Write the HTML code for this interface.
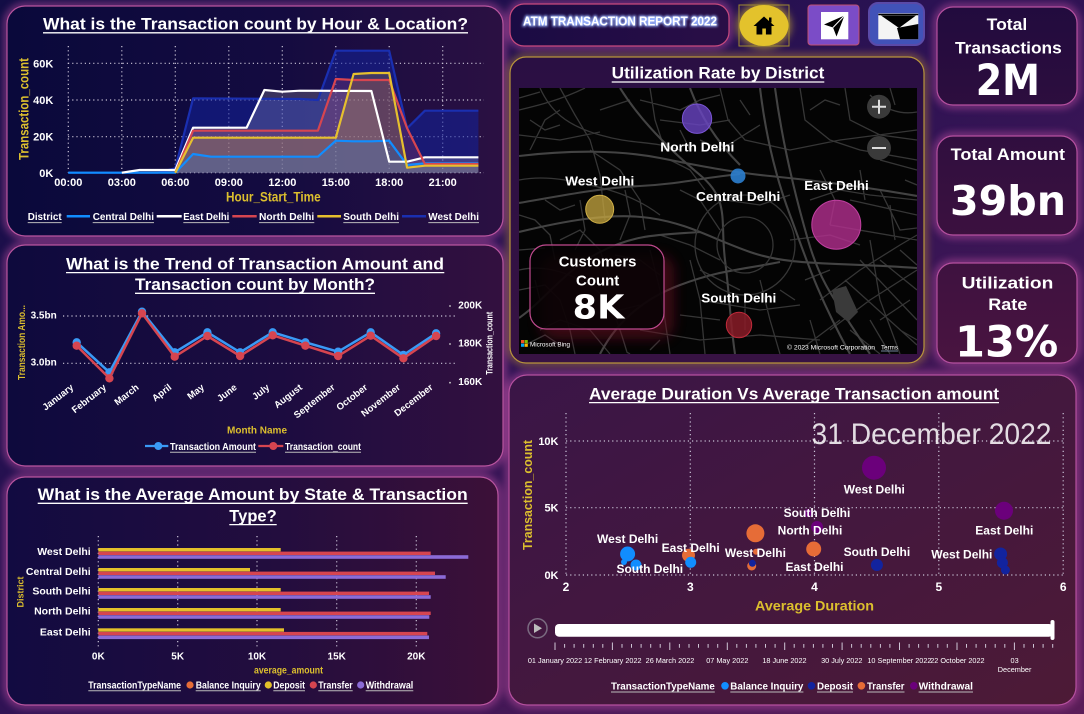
<!DOCTYPE html>
<html><head><meta charset="utf-8">
<style>
html,body{margin:0;padding:0;width:1084px;height:714px;overflow:hidden;background:#1d0e48;}
svg{display:block}
text{font-family:"Liberation Sans","DejaVu Sans",sans-serif;font-weight:bold;fill:#fff}
.y{fill:#dcbf2e}
.n{font-family:"DejaVu Sans","Liberation Sans",sans-serif}
.g{stroke:#c9c3d6;stroke-width:1.2;stroke-dasharray:1.2 3;fill:none}
.r1{stroke:#363636;stroke-width:1.3;fill:none}
.r2{stroke:#434343;stroke-width:2.1;fill:none}
</style></head><body>
<svg width="1084" height="714" viewBox="0 0 1084 714" xmlns="http://www.w3.org/2000/svg">
<defs>
<linearGradient id="bg" x1="0" y1="0" x2="1" y2="1">
<stop offset="0" stop-color="#120d45"/><stop offset="0.45" stop-color="#2c1254"/><stop offset="1" stop-color="#5a1d58"/>
</linearGradient>
<linearGradient id="gP1" x1="0" y1="0" x2="1" y2="0"><stop offset="0" stop-color="#0a093b"/><stop offset="0.55" stop-color="#140b40"/><stop offset="1" stop-color="#2b1042"/></linearGradient>
<linearGradient id="gP2" x1="0" y1="0" x2="1" y2="0"><stop offset="0" stop-color="#0e0a3d"/><stop offset="0.55" stop-color="#1c0c40"/><stop offset="1" stop-color="#33103f"/></linearGradient>
<linearGradient id="gP3" x1="0" y1="0" x2="1" y2="0"><stop offset="0" stop-color="#120b41"/><stop offset="0.55" stop-color="#230d3e"/><stop offset="1" stop-color="#3c1038"/></linearGradient>
<linearGradient id="gSc" x1="0" y1="0" x2="1" y2="1"><stop offset="0" stop-color="#3a1547"/><stop offset="1" stop-color="#4d1a36"/></linearGradient>
<linearGradient id="gMap" x1="0" y1="0" x2="0" y2="1"><stop offset="0" stop-color="#2a0f43"/><stop offset="1" stop-color="#371243"/></linearGradient>
<linearGradient id="gK" gradientUnits="userSpaceOnUse" x1="0" y1="0" x2="0" y2="370"><stop offset="0" stop-color="#210b3e"/><stop offset="1" stop-color="#4a1440"/></linearGradient>
<linearGradient id="gH" x1="0" y1="0" x2="1" y2="0"><stop offset="0" stop-color="#1a0b44"/><stop offset="1" stop-color="#2a0e46"/></linearGradient>
<filter id="blur4" x="-20%" y="-20%" width="140%" height="140%"><feGaussianBlur stdDeviation="4"/></filter>
<filter id="blur6" x="-30%" y="-30%" width="160%" height="160%"><feGaussianBlur stdDeviation="6"/></filter>
<filter id="blur1" x="-10%" y="-30%" width="120%" height="160%"><feGaussianBlur stdDeviation="1.2"/></filter>
<clipPath id="mapclip"><rect x="519" y="88" width="398" height="266"/></clipPath>
</defs>
<rect width="1084" height="714" fill="url(#bg)"/>

<g fill="none" stroke="#c24fa4" stroke-width="6" opacity=".65" filter="url(#blur4)">
<rect x="7" y="6" width="496" height="230" rx="18"/>
<rect x="7" y="245" width="496" height="221" rx="18"/>
<rect x="7" y="477" width="491" height="228" rx="18"/>
<rect x="509" y="375" width="567" height="330" rx="18"/>
<rect x="937" y="7" width="140" height="98" rx="16"/>
<rect x="937" y="136" width="140" height="99" rx="16"/>
<rect x="937" y="263" width="140" height="100" rx="16"/>
<rect x="510" y="4" width="219" height="42" rx="14"/>
</g>
<rect x="510" y="57" width="414" height="306" rx="16" fill="none" stroke="#c08a3a" stroke-width="6" opacity=".6" filter="url(#blur4)"/>

<!-- PANEL 1 -->
<rect x="7" y="6" width="496" height="230" rx="18" fill="url(#gP1)" stroke="#b9559f" stroke-width="1.2"/>
<text x="43" y="29.5" font-size="16.5" textLength="425" lengthAdjust="spacingAndGlyphs">What is the Transaction count by Hour &amp; Location?</text>
<line x1="43" x2="468" y1="32.8" y2="32.8" stroke="#fff" stroke-width="1.3"/>
<g class="g">
<path d="M68,63.3H484M68,100H484M68,136.7H484M68,172.7H484"/>
<path d="M68.3,46V172.7M121.8,46V172.7M175.3,46V172.7M228.8,46V172.7M282.3,46V172.7M335.8,46V172.7M389.2,46V172.7M442.7,46V172.7"/>
</g>
<g stroke="none">
<polygon fill="#12239E" fill-opacity=".55" points="68.3,172.7 157.5,172.7 175.3,168.3 193.1,98.3 300.1,99 317.9,100 335.8,50.7 389.2,50.7 407.1,128.3 424.9,110.7 478.4,110.7 478.4,172.7"/>
<polygon fill="#ffffff" fill-opacity=".16" points="68.3,172.7 121.8,172.7 139.6,170 175.3,170 193.1,127.7 246.6,127.7 264.4,90 282.3,91.7 300.1,90.7 371.4,91 389.2,161.7 407.1,161.7 424.9,157.3 478.4,157.3 478.4,172.7"/>
<polygon fill="#D64550" fill-opacity=".2" points="68.3,172.7 175.3,172.7 193.1,130.7 317.9,130.7 335.8,79 353.6,80 389.2,80 407.1,128.3 424.9,164 478.4,164 478.4,172.7"/>
<polygon fill="#E6C02E" fill-opacity=".2" points="68.3,172.7 175.3,172.7 193.1,137.7 335.8,137.7 353.6,74 371.4,73 389.2,73 407.1,167.7 424.9,165.7 478.4,165.7 478.4,172.7"/>
<polygon fill="#118DFF" fill-opacity=".18" points="68.3,172.7 175.3,172.7 193.1,154 210.9,156.7 317.9,156.7 335.8,140.7 353.6,141.3 371.4,141.3 389.2,140.7 407.1,165 424.9,163.3 478.4,163.3 478.4,172.7"/>
</g>
<g fill="none" stroke-width="2.2" stroke-linejoin="round">
<polyline stroke="#1a2fb0" points="68.3,172.7 157.5,172.7 175.3,168.3 193.1,98.3 300.1,99 317.9,100 335.8,50.7 389.2,50.7 407.1,128.3 424.9,110.7 478.4,110.7"/>
<polyline stroke="#118DFF" points="68.3,172.7 175.3,172.7 193.1,154 210.9,156.7 317.9,156.7 335.8,140.7 353.6,141.3 371.4,141.3 389.2,140.7 407.1,165 424.9,163.3 478.4,163.3"/>
<polyline stroke="#ffffff" points="121.8,172.7 139.6,170 175.3,170 193.1,127.7 246.6,127.7 264.4,90 282.3,91.7 300.1,90.7 371.4,91 389.2,161.7 407.1,161.7 424.9,157.3 478.4,157.3"/>
<polyline stroke="#D64550" points="175.3,172.7 193.1,130.7 317.9,130.7 335.8,79 353.6,80 389.2,80 407.1,128.3 424.9,164 478.4,164"/>
<polyline stroke="#E6C02E" points="175.3,172.7 193.1,137.7 335.8,137.7 353.6,74 371.4,73 389.2,73 407.1,167.7 424.9,165.7 478.4,165.7"/>
</g>
<g font-size="11" text-anchor="end">
<text x="53.3" y="67.3">60K</text><text x="53.3" y="104">40K</text><text x="53.3" y="140.7">20K</text><text x="53.3" y="177">0K</text>
</g>
<g font-size="11" text-anchor="middle">
<text x="68.3" y="186">00:00</text><text x="121.8" y="186">03:00</text><text x="175.3" y="186">06:00</text><text x="228.8" y="186">09:00</text><text x="282.3" y="186">12:00</text><text x="335.8" y="186">15:00</text><text x="389.2" y="186">18:00</text><text x="442.7" y="186">21:00</text>
</g>
<text class="y" x="226" y="201.7" font-size="14" textLength="94.7" lengthAdjust="spacingAndGlyphs">Hour_Start_Time</text>
<text class="y" transform="translate(28.3,109) rotate(-90)" text-anchor="middle" font-size="14" textLength="102" lengthAdjust="spacingAndGlyphs">Transaction_count</text>
<g font-size="10.5">
<text x="27.7" y="220" textLength="34" lengthAdjust="spacingAndGlyphs">District</text>
<text x="92.7" y="220" textLength="61.3" lengthAdjust="spacingAndGlyphs">Central Delhi</text>
<text x="183.3" y="220" textLength="46" lengthAdjust="spacingAndGlyphs">East Delhi</text>
<text x="259" y="220" textLength="55.3" lengthAdjust="spacingAndGlyphs">North Delhi</text>
<text x="343.3" y="220" textLength="55.7" lengthAdjust="spacingAndGlyphs">South Delhi</text>
<text x="428.3" y="220" textLength="50.7" lengthAdjust="spacingAndGlyphs">West Delhi</text>
</g>
<path d="M27.7,222.6H61.7M92.7,222.6H154M183.3,222.6H229.3M259,222.6H314.3M343.3,222.6H399M428.3,222.6H479" stroke="#bbb" stroke-width="1"/>
<g stroke-width="2.5"><line x1="66.7" x2="90" y1="216.3" y2="216.3" stroke="#118DFF"/><line x1="156.7" x2="181.7" y1="216.3" y2="216.3" stroke="#fff"/><line x1="232.3" x2="256.7" y1="216.3" y2="216.3" stroke="#D64550"/><line x1="317.3" x2="341" y1="216.3" y2="216.3" stroke="#E6C02E"/><line x1="402" x2="426" y1="216.3" y2="216.3" stroke="#1a2fb0"/></g>

<!-- PANEL 2 -->
<rect x="7" y="245" width="496" height="221" rx="18" fill="url(#gP2)" stroke="#b9559f" stroke-width="1.2"/>
<text x="66" y="269.3" font-size="16.5" textLength="378" lengthAdjust="spacingAndGlyphs">What is the Trend of Transaction Amount and</text>
<line x1="66" x2="444.3" y1="272.6" y2="272.6" stroke="#fff" stroke-width="1.3"/>
<text x="135" y="290" font-size="16.5" textLength="240" lengthAdjust="spacingAndGlyphs">Transaction count by Month?</text>
<line x1="135" x2="375" y1="293.3" y2="293.3" stroke="#fff" stroke-width="1.3"/>
<path class="g" d="M63,316H457M63,363.3H457"/>
<g fill="#ccc"><circle cx="450" cy="306" r=".9"/><circle cx="450" cy="344" r=".9"/><circle cx="450" cy="382.7" r=".9"/></g>
<g font-size="10" text-anchor="end"><text x="56.7" y="318.3">3.5bn</text><text x="56.7" y="365.7">3.0bn</text></g>
<g font-size="10"><text x="458.3" y="308.3">200K</text><text x="458.3" y="346.7">180K</text><text x="458.3" y="385">160K</text></g>
<text class="y" transform="translate(25,342.5) rotate(-90)" text-anchor="middle" font-size="10" textLength="75" lengthAdjust="spacingAndGlyphs">Transaction Amo...</text>
<text transform="translate(492.5,343.3) rotate(-90)" text-anchor="middle" font-size="9.5" textLength="63" lengthAdjust="spacingAndGlyphs" fill="#eee">Transaction_count</text>
<polyline fill="none" stroke="#3a9af5" stroke-width="2.5" stroke-linejoin="round" points="76.7,342.3 109.4,372.3 142,311.7 174.7,352.3 207.4,332.3 240.1,352.3 272.7,332.3 305.4,342.3 338.1,351.7 370.7,332.3 403.4,355 436.1,333.3"/>
<g fill="#3a9af5"><circle cx="76.7" cy="342.3" r="4.2"/><circle cx="109.4" cy="372.3" r="4.2"/><circle cx="142" cy="311.7" r="4.2"/><circle cx="174.7" cy="352.3" r="4.2"/><circle cx="207.4" cy="332.3" r="4.2"/><circle cx="240.1" cy="352.3" r="4.2"/><circle cx="272.7" cy="332.3" r="4.2"/><circle cx="305.4" cy="342.3" r="4.2"/><circle cx="338.1" cy="351.7" r="4.2"/><circle cx="370.7" cy="332.3" r="4.2"/><circle cx="403.4" cy="355" r="4.2"/><circle cx="436.1" cy="333.3" r="4.2"/></g>
<polyline fill="none" stroke="#D64550" stroke-width="2.5" stroke-linejoin="round" points="76.7,345.7 109.4,378.3 142,313.3 174.7,356.7 207.4,336 240.1,356 272.7,335.3 305.4,345.7 338.1,356 370.7,335.7 403.4,358.3 436.1,336"/>
<g fill="#D64550"><circle cx="76.7" cy="345.7" r="4.2"/><circle cx="109.4" cy="378.3" r="4.2"/><circle cx="142" cy="313.3" r="4.2"/><circle cx="174.7" cy="356.7" r="4.2"/><circle cx="207.4" cy="336" r="4.2"/><circle cx="240.1" cy="356" r="4.2"/><circle cx="272.7" cy="335.3" r="4.2"/><circle cx="305.4" cy="345.7" r="4.2"/><circle cx="338.1" cy="356" r="4.2"/><circle cx="370.7" cy="335.7" r="4.2"/><circle cx="403.4" cy="358.3" r="4.2"/><circle cx="436.1" cy="336" r="4.2"/></g>
<g font-size="9.5" text-anchor="end" fill="#eee">
<text transform="translate(74.2,388.5) rotate(-38)">January</text>
<text transform="translate(106.9,388.5) rotate(-38)">February</text>
<text transform="translate(139.5,388.5) rotate(-38)">March</text>
<text transform="translate(172.2,388.5) rotate(-38)">April</text>
<text transform="translate(204.9,388.5) rotate(-38)">May</text>
<text transform="translate(237.6,388.5) rotate(-38)">June</text>
<text transform="translate(270.2,388.5) rotate(-38)">July</text>
<text transform="translate(302.9,388.5) rotate(-38)">August</text>
<text transform="translate(335.6,388.5) rotate(-38)">September</text>
<text transform="translate(368.2,388.5) rotate(-38)">October</text>
<text transform="translate(400.9,388.5) rotate(-38)">November</text>
<text transform="translate(433.6,388.5) rotate(-38)">December</text>
</g>
<text class="y" x="257" y="433.3" font-size="10" text-anchor="middle">Month Name</text>
<line x1="145" x2="168.3" y1="446" y2="446" stroke="#3a9af5" stroke-width="2.2"/><circle cx="158.3" cy="446" r="4" fill="#3a9af5"/>
<line x1="258.3" x2="283.3" y1="446" y2="446" stroke="#D64550" stroke-width="2.2"/><circle cx="273.3" cy="446" r="4" fill="#D64550"/>
<g font-size="10.5"><text x="170" y="449.8" textLength="86" lengthAdjust="spacingAndGlyphs">Transaction Amount</text><text x="285" y="449.8" textLength="76" lengthAdjust="spacingAndGlyphs">Transaction_count</text></g>
<path d="M170,452.3H256M285,452.3H361" stroke="#bbb" stroke-width="1"/>

<!-- PANEL 3 -->
<rect x="7" y="477" width="491" height="228" rx="18" fill="url(#gP3)" stroke="#b9559f" stroke-width="1.2"/>
<text x="37.7" y="500" font-size="16.5" textLength="430" lengthAdjust="spacingAndGlyphs">What is the Average Amount by State &amp; Transaction</text>
<line x1="37.7" x2="467.7" y1="503.3" y2="503.3" stroke="#fff" stroke-width="1.3"/>
<text x="229.3" y="521.3" font-size="16.5" textLength="47.4" lengthAdjust="spacingAndGlyphs">Type?</text>
<line x1="229.3" x2="276.7" y1="524.6" y2="524.6" stroke="#fff" stroke-width="1.3"/>
<path class="g" d="M98.3,536V647M177.7,536V647M257,536V647M336.7,536V647M416.3,536V647"/>
<g>
<rect x="98.3" y="548" width="182.4" height="3.4" fill="#E3C02A"/><rect x="98.3" y="551.6" width="332.4" height="3.4" fill="#D64550"/><rect x="98.3" y="555.2" width="370" height="3.6" fill="#8B6BD6"/>
<rect x="98.3" y="568" width="151.7" height="3.4" fill="#E3C02A"/><rect x="98.3" y="571.6" width="336.7" height="3.4" fill="#D64550"/><rect x="98.3" y="575.2" width="347.4" height="3.6" fill="#8B6BD6"/>
<rect x="98.3" y="588" width="182.4" height="3.4" fill="#E3C02A"/><rect x="98.3" y="591.6" width="330.7" height="3.4" fill="#D64550"/><rect x="98.3" y="595.2" width="332.4" height="3.6" fill="#8B6BD6"/>
<rect x="98.3" y="608" width="182.4" height="3.4" fill="#E3C02A"/><rect x="98.3" y="611.6" width="332.4" height="3.4" fill="#D64550"/><rect x="98.3" y="615.2" width="331" height="3.6" fill="#8B6BD6"/>
<rect x="98.3" y="628.3" width="185.7" height="3.4" fill="#E3C02A"/><rect x="98.3" y="631.9" width="329" height="3.4" fill="#D64550"/><rect x="98.3" y="635.5" width="330.7" height="3.6" fill="#8B6BD6"/>
</g>
<g font-size="10.5" text-anchor="end">
<text x="90.7" y="555">West Delhi</text><text x="90.7" y="575">Central Delhi</text><text x="90.7" y="594.7">South Delhi</text><text x="90.7" y="614.7">North Delhi</text><text x="90.7" y="635.7">East Delhi</text>
</g>
<text class="y" transform="translate(23.5,592) rotate(-90)" text-anchor="middle" font-size="9">District</text>
<g font-size="10" text-anchor="middle"><text x="98.3" y="659.7">0K</text><text x="177.7" y="659.7">5K</text><text x="257" y="659.7">10K</text><text x="336.7" y="659.7">15K</text><text x="416.3" y="659.7">20K</text></g>
<text class="y" x="254" y="673.3" font-size="10" textLength="69" lengthAdjust="spacingAndGlyphs">average_amount</text>
<g font-size="10">
<text x="88.3" y="688.3" textLength="92.7" lengthAdjust="spacingAndGlyphs">TransactionTypeName</text>
<text x="195.7" y="688.3" textLength="65" lengthAdjust="spacingAndGlyphs">Balance Inquiry</text>
<text x="273.3" y="688.3" textLength="31.7" lengthAdjust="spacingAndGlyphs">Deposit</text>
<text x="318.3" y="688.3" textLength="34.4" lengthAdjust="spacingAndGlyphs">Transfer</text>
<text x="365.7" y="688.3" textLength="47.6" lengthAdjust="spacingAndGlyphs">Withdrawal</text>
</g>
<path d="M88.3,690.8H181M195.7,690.8H260.7M273.3,690.8H305M318.3,690.8H352.7M365.7,690.8H413.3" stroke="#bbb" stroke-width="1"/>
<circle cx="190" cy="685" r="3.6" fill="#E66C37"/><circle cx="268.3" cy="685" r="3.6" fill="#E3C02A"/><circle cx="313.3" cy="685" r="3.6" fill="#D64550"/><circle cx="360.7" cy="685" r="3.6" fill="#8B6BD6"/>

<!-- HEADER -->
<rect x="510" y="4" width="219" height="42" rx="14" fill="url(#gH)" stroke="#c84a7e" stroke-width="1.2"/>
<text x="523" y="25.3" font-size="13" textLength="194" lengthAdjust="spacingAndGlyphs" fill="#9ab4ff" stroke="#9ab4ff" stroke-width="2" filter="url(#blur1)">ATM TRANSACTION REPORT 2022</text>
<text x="523" y="25.3" font-size="13" textLength="194" lengthAdjust="spacingAndGlyphs">ATM TRANSACTION REPORT 2022</text>

<ellipse cx="764" cy="25.5" rx="27" ry="23" fill="#e3c22c" opacity=".6" filter="url(#blur4)"/>
<rect x="739" y="5" width="50" height="41" fill="none" stroke="#a08a30" stroke-width="1"/>
<ellipse cx="764" cy="25.5" rx="24.5" ry="20.5" fill="#e3c22c"/>
<polygon points="764,16.5 753.5,26 774.5,26" fill="#000"/>
<rect x="769" y="17.5" width="2.5" height="5" fill="#000"/>
<rect x="756.5" y="25" width="15" height="9.5" fill="#000"/>
<rect x="762.3" y="28.5" width="3.6" height="6" fill="#e3c22c"/>

<rect x="808" y="5" width="51" height="40" rx="3" fill="#7b4cc7" stroke="#c05070" stroke-width="1"/>
<rect x="821" y="12" width="27.3" height="27.3" fill="#fff"/>
<polygon points="844.5,15.5 824,24.5 833,27.5 836.5,36.5" fill="#000"/>
<polyline points="833,27.5 844.5,15.5" stroke="#fff" stroke-width="1" fill="none"/>

<rect x="869" y="3" width="55" height="42" rx="9" fill="#4152b8" stroke="#5a4aa8" stroke-width="2"/>
<rect x="878.3" y="13.3" width="40" height="26" fill="#f4f4f4"/>
<path d="M878.3,14.5H918.3" stroke="#000" stroke-width="1.5"/>
<polygon points="881,15.5 916,15.5 899,28" fill="#000"/>
<polygon points="897,28 918.3,24 918.3,39.3 900,39.3" fill="#000"/>

<!-- MAP PANEL -->
<rect x="510" y="57" width="414" height="306" rx="16" fill="url(#gMap)" stroke="#b8953c" stroke-width="1.2"/>
<text x="611.7" y="78.7" font-size="17" textLength="212.6" lengthAdjust="spacingAndGlyphs">Utilization Rate by District</text>
<line x1="611.7" x2="824.3" y1="82" y2="82" stroke="#fff" stroke-width="1.3"/>
<rect x="519" y="88" width="398" height="266" fill="#040404"/>
<g clip-path="url(#mapclip)">
<path class="r1" d="M519,110 C540,105 560,100 585,88 M540,88 C550,110 565,125 600,135 S650,140 680,150 M519,135 L560,140 L600,132 M519,180 C540,176 560,178 590,185 S640,200 660,215 M560,88 L575,115 L590,140 L600,175 L605,220 M650,88 L655,120 L665,150 M720,88 L728,120 L745,140 L790,150 L840,140 L917,130 M800,88 L805,120 L830,140 L860,150 L917,160 M845,88 L850,120 L880,135 L917,140 M870,95 C885,110 900,115 917,112 M880,160 L917,170 M850,200 L917,215 M830,225 L917,240 M870,240 L880,300 L900,354 M860,260 L917,320 M845,280 L917,345 M880,260 L917,290 M900,250 L917,265 M820,300 L860,270 L900,245 L917,235 M830,330 L870,300 L917,270 M519,270 C540,265 560,270 580,280 S610,300 620,330 S625,350 630,354 M519,290 L545,285 L560,300 L570,330 L575,354 M650,250 L660,290 L665,320 L670,354 M690,260 L700,300 L705,354 M700,300 L760,310 L800,305 M640,330 L700,340 L760,335 L820,340 M760,280 L770,320 L780,354 M810,200 L840,190 L870,195 L917,200 M680,190 L700,200 L720,230 M560,240 L580,230 L600,250 L610,280 M519,250 L545,248 M640,100 L680,110 L700,100 L720,95 M590,150 L620,170 L640,200 L645,230 M660,120 L700,125 L730,120 M870,320 L890,354 M800,350 L840,320 M519,98 L540,92 M530,150 L545,120 L560,110 M600,110 L630,100 M700,140 L720,150 L760,125 M880,190 L900,230 L917,228 M790,240 L830,235 L860,245 M660,235 L690,245 L720,260 M540,330 L560,320 L590,330 L610,354 M680,315 L720,320 M805,280 L830,270 M519,215 L535,220 L550,235 L555,260 M580,200 L585,230 L575,250 M625,190 L630,215 L620,240 M670,160 L690,170 L705,190 M740,100 L750,115 M810,110 L825,100 L840,105 M890,88 L895,105 M905,180 L917,185 M820,170 L835,200 L830,225 M860,170 L865,200 M890,205 L895,240 M545,200 L560,210 L575,205 M600,300 L620,310 L640,305 M650,350 L660,340 M700,270 L720,280 L740,290 M780,290 L795,300 M810,320 L820,354 M525,345 L545,335 L560,345 M680,130 L690,150 M615,255 L640,260 L660,275 M535,280 L540,300 M725,200 L760,205 L790,195 M745,300 L745,330 M880,320 L910,300 M850,330 L880,354 M900,330 L917,340 M530,120 L545,130 L560,125"/>
<path class="r2" d="M519,156 C570,150 620,150 660,158 S730,172 770,176 S860,186 917,196 M519,203 C560,196 600,188 640,186 S700,178 740,174 M519,232 C560,222 610,212 650,218 S710,238 750,252 S830,262 917,268 M760,88 C765,130 775,175 790,215 S815,290 850,354 M775,88 C782,140 795,195 808,240 S835,300 870,354 M519,318 C545,300 565,270 600,252 S660,235 700,232 M600,354 C615,325 640,300 680,285 S740,270 780,262 M690,88 C700,115 715,140 740,165 M620,88 C640,120 670,150 700,175 S720,220 725,260 S730,320 735,354"/>
<circle class="r1" cx="745" cy="245" r="50"/>
<circle class="r1" cx="745" cy="245" r="28"/>
<path d="M832,290 L846,286 L858,312 L848,322 L836,312 Z" fill="#3a3a3a"/>
</g>
<circle cx="697" cy="118.7" r="14.7" fill="#6a45c4" fill-opacity=".8" stroke="#7a55d4"/>
<circle cx="599.7" cy="209.3" r="14" fill="#c8a840" fill-opacity=".75" stroke="#d0b048"/>
<circle cx="738" cy="176" r="7.5" fill="#2c7fd0" fill-opacity=".9"/>
<circle cx="836.3" cy="224.7" r="24.5" fill="#b43090" fill-opacity=".8" stroke="#c040a0"/>
<circle cx="739" cy="325" r="12.7" fill="#8a1c28" fill-opacity=".85" stroke="#c02a3a"/>
<circle cx="879" cy="106.7" r="12" fill="#3a3a3a"/><path d="M872,106.7H886M879,99.7V113.7" stroke="#ddd" stroke-width="2"/>
<circle cx="879" cy="148" r="12" fill="#3a3a3a"/><path d="M872,148H886" stroke="#ddd" stroke-width="2"/>
<g font-size="13">
<text x="660.3" y="151.7" textLength="74" lengthAdjust="spacingAndGlyphs">North Delhi</text>
<text x="565.3" y="185.3" textLength="69" lengthAdjust="spacingAndGlyphs">West Delhi</text>
<text x="696" y="201" textLength="84.3" lengthAdjust="spacingAndGlyphs">Central Delhi</text>
<text x="804.3" y="190" textLength="64.4" lengthAdjust="spacingAndGlyphs">East Delhi</text>
<text x="701.3" y="302.7" textLength="75" lengthAdjust="spacingAndGlyphs">South Delhi</text>
</g>
<rect x="540" y="255" width="134" height="84" rx="16" fill="#6a1020" opacity=".55" filter="url(#blur6)"/>
<rect x="530" y="245" width="134" height="84" rx="16" fill="#050203" fill-opacity=".85" stroke="#c04a8f" stroke-width="1.2"/>
<text x="558.7" y="266.7" font-size="15" textLength="77.7" lengthAdjust="spacingAndGlyphs">Customers</text>
<text x="576" y="285.3" font-size="15" textLength="43.3" lengthAdjust="spacingAndGlyphs">Count</text>
<text class="n" x="572.7" y="318.3" font-size="33" textLength="51.7" lengthAdjust="spacingAndGlyphs" fill="#d9434f">8K</text>
<rect x="521" y="340" width="3.2" height="3.2" fill="#f25022"/><rect x="524.6" y="340" width="3.2" height="3.2" fill="#7fba00"/><rect x="521" y="343.6" width="3.2" height="3.2" fill="#00a4ef"/><rect x="524.6" y="343.6" width="3.2" height="3.2" fill="#ffb900"/>
<text x="530" y="346.5" font-size="6.5" fill="#bbb" textLength="40" lengthAdjust="spacingAndGlyphs" style="font-weight:normal">Microsoft Bing</text>
<text x="787" y="349.3" font-size="6.5" fill="#ccc" textLength="88" lengthAdjust="spacingAndGlyphs" style="font-weight:normal">© 2023 Microsoft Corporation</text>
<text x="881" y="349.3" font-size="6.5" fill="#9ab0d0" textLength="17" lengthAdjust="spacingAndGlyphs" style="font-weight:normal">Terms</text>
<line x1="881" x2="898" y1="351" y2="351" stroke="#9ab0d0" stroke-width=".7"/>

<!-- KPI CARDS -->
<rect x="937" y="7" width="140" height="98" rx="16" fill="url(#gK)" stroke="#b5509f" stroke-width="1.2"/>
<rect x="937" y="136" width="140" height="99" rx="16" fill="url(#gK)" stroke="#b5509f" stroke-width="1.2"/>
<rect x="937" y="263" width="140" height="100" rx="16" fill="url(#gK)" stroke="#b5509f" stroke-width="1.2"/>
<text x="986.7" y="30" font-size="17" textLength="40.6" lengthAdjust="spacingAndGlyphs">Total</text>
<text x="955" y="53.3" font-size="17" textLength="106.7" lengthAdjust="spacingAndGlyphs">Transactions</text>
<text class="n" x="975.7" y="95" font-size="43" textLength="64.3" lengthAdjust="spacingAndGlyphs">2M</text>
<text x="950.7" y="160" font-size="17" textLength="114.3" lengthAdjust="spacingAndGlyphs">Total Amount</text>
<text class="n" x="950" y="215" font-size="41" textLength="116" lengthAdjust="spacingAndGlyphs">39bn</text>
<text x="961.7" y="288.3" font-size="17" textLength="91.6" lengthAdjust="spacingAndGlyphs">Utilization</text>
<text x="988.3" y="310" font-size="17" textLength="39" lengthAdjust="spacingAndGlyphs">Rate</text>
<text class="n" x="955" y="356.7" font-size="43" textLength="103.3" lengthAdjust="spacingAndGlyphs">13%</text>

<!-- SCATTER -->
<rect x="509" y="375" width="567" height="330" rx="18" fill="url(#gSc)" stroke="#b5509f" stroke-width="1.2"/>
<text x="589" y="399.3" font-size="16.5" textLength="410" lengthAdjust="spacingAndGlyphs">Average Duration Vs Average Transaction amount</text>
<line x1="589" x2="999" y1="402.6" y2="402.6" stroke="#fff" stroke-width="1.3"/>
<g class="g">
<path d="M566,441H1064M566,507.7H1064M566,575H1064"/>
<path d="M566,413V575M690.3,413V575M814.5,413V575M938.8,413V575M1063.2,413V575"/>
</g>
<text x="811.5" y="444" font-size="30" textLength="240" lengthAdjust="spacingAndGlyphs" fill="#8f8a96" fill-opacity=".85" style="font-weight:normal">31 December 2022</text>
<g font-size="11" text-anchor="end"><text x="558.5" y="445">10K</text><text x="558.5" y="511.7">5K</text><text x="558.5" y="579">0K</text></g>
<g font-size="12" text-anchor="middle"><text x="566" y="591">2</text><text x="690.3" y="591">3</text><text x="814.5" y="591">4</text><text x="938.8" y="591">5</text><text x="1063.2" y="591">6</text></g>
<text class="y" transform="translate(532,495) rotate(-90)" text-anchor="middle" font-size="13" textLength="110" lengthAdjust="spacingAndGlyphs">Transaction_count</text>
<text class="y" x="755" y="610.5" font-size="14" textLength="119" lengthAdjust="spacingAndGlyphs">Average Duration</text>
<g>
<circle cx="874" cy="467.7" r="12" fill="#6B007B"/>
<circle cx="1004" cy="510.7" r="9" fill="#6B007B"/>
<circle cx="808" cy="513" r="4" fill="#6B007B"/>
<circle cx="817" cy="527" r="6" fill="#6B007B"/>
<circle cx="755.4" cy="533.3" r="9" fill="#E66C37"/>
<circle cx="813.7" cy="549" r="7.5" fill="#E66C37"/>
<circle cx="688.5" cy="555.3" r="6.5" fill="#E66C37"/>
<circle cx="751.7" cy="566" r="4.5" fill="#E66C37"/>
<circle cx="756" cy="551.7" r="3" fill="#E66C37"/>
<circle cx="627.6" cy="554" r="7.5" fill="#118DFF"/>
<circle cx="636" cy="565" r="5.5" fill="#118DFF"/>
<circle cx="690.7" cy="562.3" r="5.5" fill="#118DFF"/>
<circle cx="624" cy="562" r="3" fill="#118DFF"/>
<circle cx="752.4" cy="563.3" r="3.5" fill="#12239E"/>
<circle cx="876.9" cy="565" r="6" fill="#12239E"/>
<circle cx="1000.6" cy="554" r="6.5" fill="#12239E"/>
<circle cx="1002.4" cy="562.7" r="5.5" fill="#12239E"/>
<circle cx="1005.4" cy="570" r="4.5" fill="#12239E"/>
</g>
<g font-size="12" text-anchor="middle">
<text x="627.6" y="543">West Delhi</text>
<text x="649.8" y="573">South Delhi</text>
<text x="690.7" y="552">East Delhi</text>
<text x="755.4" y="557">West Delhi</text>
<text x="817" y="517">South Delhi</text>
<text x="810" y="534.3">North Delhi</text>
<text x="814.5" y="571">East Delhi</text>
<text x="874.3" y="493.6">West Delhi</text>
<text x="876.9" y="556">South Delhi</text>
<text x="1004.3" y="534.3">East Delhi</text>
<text x="961.8" y="558.6">West Delhi</text>
</g>
<circle cx="537.5" cy="628.3" r="9.5" fill="none" stroke="#7a6a80" stroke-width="1.5"/>
<polygon points="534,623.5 534,633 542,628.3" fill="#bbb"/>
<rect x="555" y="624" width="498" height="12.7" rx="4" fill="#fff"/>
<rect x="1050.5" y="620" width="4" height="20" rx="2" fill="#fff"/>
<g stroke="#cfc6d6" stroke-width="1">
<path d="M555,642.5V650M612.4,642.5V650M669.8,642.5V650M727.3,642.5V650M784.7,642.5V650M842.1,642.5V650M899.5,642.5V650M957,642.5V650M1014.4,642.5V650"/>
<path d="M564.6,644V647.7M574.1,644V647.7M583.7,644V647.7M593.3,644V647.7M602.8,644V647.7M622,644V647.7M631.5,644V647.7M641.1,644V647.7M650.7,644V647.7M660.2,644V647.7M679.4,644V647.7M689,644V647.7M698.5,644V647.7M708.1,644V647.7M717.7,644V647.7M736.8,644V647.7M746.4,644V647.7M755.9,644V647.7M765.5,644V647.7M775.1,644V647.7M794.2,644V647.7M803.8,644V647.7M813.4,644V647.7M822.9,644V647.7M832.5,644V647.7M851.6,644V647.7M861.2,644V647.7M870.8,644V647.7M880.4,644V647.7M889.9,644V647.7M909.1,644V647.7M918.6,644V647.7M928.2,644V647.7M937.8,644V647.7M947.3,644V647.7M966.5,644V647.7M976.1,644V647.7M985.6,644V647.7M995.2,644V647.7M1004.8,644V647.7M1024,644V647.7M1033.5,644V647.7M1043.1,644V647.7M1052.7,644V647.7"/>
</g>
<g font-size="7.3" text-anchor="middle">
<text x="555" y="663" fill="#cfc6d6" style="font-weight:normal">01 January 2022</text>
<text x="612.8" y="663" fill="#cfc6d6" style="font-weight:normal">12 February 2022</text>
<text x="670" y="663" fill="#cfc6d6" style="font-weight:normal">26 March 2022</text>
<text x="727.3" y="663" fill="#cfc6d6" style="font-weight:normal">07 May 2022</text>
<text x="784.5" y="663" fill="#cfc6d6" style="font-weight:normal">18 June 2022</text>
<text x="841.8" y="663" fill="#cfc6d6" style="font-weight:normal">30 July 2022</text>
<text x="899.4" y="663" fill="#cfc6d6" style="font-weight:normal">10 September 2022</text>
<text x="957.4" y="663" fill="#cfc6d6" style="font-weight:normal">22 October 2022</text>
<text x="1014.6" y="663" fill="#cfc6d6" style="font-weight:normal">03</text>
<text x="1014.6" y="672" fill="#cfc6d6" style="font-weight:normal">December</text>
</g>
<g font-size="10.5">
<text x="611" y="689.5" textLength="103.8" lengthAdjust="spacingAndGlyphs">TransactionTypeName</text>
<text x="730.3" y="689.5" textLength="73.1" lengthAdjust="spacingAndGlyphs">Balance Inquiry</text>
<text x="817" y="689.5" textLength="36" lengthAdjust="spacingAndGlyphs">Deposit</text>
<text x="867" y="689.5" textLength="37.5" lengthAdjust="spacingAndGlyphs">Transfer</text>
<text x="918.6" y="689.5" textLength="54.4" lengthAdjust="spacingAndGlyphs">Withdrawal</text>
</g>
<path d="M611,692H714.8M730.3,692H803.4M817,692H853M867,692H904.5M918.6,692H973" stroke="#bbb" stroke-width="1"/>
<circle cx="725" cy="685.8" r="3.8" fill="#118DFF"/><circle cx="811.5" cy="685.8" r="3.8" fill="#12239E"/><circle cx="861.4" cy="685.8" r="3.8" fill="#E66C37"/><circle cx="913.8" cy="685.8" r="3.8" fill="#6B007B"/>
</svg>
</body></html>
